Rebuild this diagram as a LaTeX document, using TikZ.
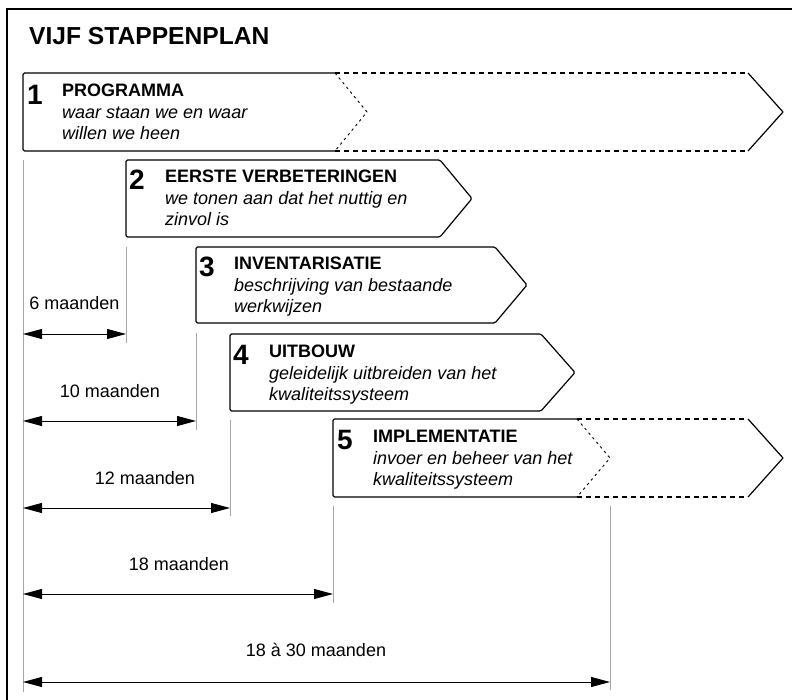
\documentclass[tikz,border=0pt]{standalone}
\usepackage{fontspec}
\setmainfont{Liberation Sans}
\usetikzlibrary{arrows.meta}
\begin{document}
\begin{tikzpicture}[x=1pt,y=-1pt,
  boxline/.style={line width=1.2pt, line join=round},
  dashext/.style={line width=1.2pt, dash pattern=on 4.5pt off 4.5pt},
  chevdash/.style={line width=0.9pt, dash pattern=on 2.5pt off 3.5pt},
  guide/.style={line width=0.8pt, draw=black!35},
  dim/.style={line width=0.9pt, {Triangle[length=19pt,width=10pt]}-{Triangle[length=19pt,width=10pt]}},
  num/.style={anchor=base west, inner sep=0pt, font=\fontsize{28}{28}\selectfont\bfseries},
  head/.style={anchor=base west, inner sep=0pt, font=\fontsize{18}{21}\selectfont\bfseries},
  desc/.style={anchor=base west, inner sep=0pt, font=\fontsize{18}{21}\selectfont\itshape},
  dimlabel/.style={anchor=base, inner sep=0pt, font=\fontsize{18}{21}\selectfont},
]
\useasboundingbox (0,0) rectangle (792,700);

% outer frame (open to the right and bottom)
\draw[line width=1.3pt] (7,700) -- (7,9) -- (792,9);

% title
\node[anchor=base west, inner sep=0pt, font=\fontsize{24.6}{24.6}\selectfont\bfseries] (title) at (29,45) {VIJF STAPPENPLAN};

% ---- step 1: programme (open-ended arrow) ----
\draw[boxline, rounded corners=1.5pt] (335,73) -- (23,73) -- (23,151) -- (335,151);
\draw[chevdash] (335,73) -- (367,112) -- (335,151);
\draw[dashext] (335,73) -- (748,73);
\draw[dashext] (335,151) -- (748,151);
\draw[boxline] (748,73) -- (783,112) -- (748,151);
\node[num]  (n1) at (27,105) {1};
\node[head] (h1) at (62,97)  {PROGRAMMA};
\node[desc] (d1a) at (62,119) {waar staan we en waar};
\node[desc] (d1b) at (62,140) {willen we heen};

% ---- step 2 ----
\draw[boxline, rounded corners=1.5pt] (126,160) -- (440,160) -- (472,198.5) -- (440,237) -- (126,237) -- cycle;
\node[num]  (n2) at (129,190) {2};
\node[head] (h2) at (165,183) {EERSTE VERBETERINGEN};
\node[desc] (d2a) at (165,205) {we tonen aan dat het nuttig en};
\node[desc] (d2b) at (165,226) {zinvol is};

% ---- step 3 ----
\draw[boxline, rounded corners=1.5pt] (196,247) -- (495,247) -- (527,285) -- (495,323) -- (196,323) -- cycle;
\node[num]  (n3) at (199,277) {3};
\node[head] (h3) at (234,270) {INVENTARISATIE};
\node[desc] (d3a) at (234,292) {beschrijving van bestaande};
\node[desc] (d3b) at (234,313) {werkwijzen};

% ---- step 4 ----
\draw[boxline, rounded corners=1.5pt] (230,334) -- (541,334) -- (575,372.5) -- (541,411) -- (230,411) -- cycle;
\node[num]  (n4) at (233,364) {4};
\node[head] (h4) at (269,357) {UITBOUW};
\node[desc] (d4a) at (269,379) {geleidelijk uitbreiden van het};
\node[desc] (d4b) at (269,400) {kwaliteitssysteem};

% ---- step 5: implementation (open-ended arrow) ----
\draw[boxline, rounded corners=1.5pt] (577,419) -- (333,419) -- (333,497) -- (577,497);
\draw[chevdash] (577,419) -- (610,458) -- (577,497);
\draw[dashext] (577,419) -- (748,419);
\draw[dashext] (577,497) -- (748,497);
\draw[boxline] (748,419) -- (783,458) -- (748,497);
\node[num]  (n5) at (337,449) {5};
\node[head] (h5) at (373,442) {IMPLEMENTATIE};
\node[desc] (d5a) at (373,464) {invoer en beheer van het};
\node[desc] (d5b) at (373,485) {kwaliteitssysteem};

% ---- time scale: guide lines ----
\coordinate (g0t) at (23,160);  \coordinate (g0b) at (23,692);
\coordinate (g1t) at (126,247); \coordinate (g1b) at (126,343);
\coordinate (g2t) at (196,333); \coordinate (g2b) at (196,430);
\coordinate (g3t) at (230,420); \coordinate (g3b) at (230,516);
\coordinate (g4t) at (333,506); \coordinate (g4b) at (333,603);
\coordinate (g5t) at (610,506); \coordinate (g5b) at (610,690);
\foreach \g in {g0,g1,g2,g3,g4,g5} \draw[guide] (\g t) -- (\g b);

% ---- time scale: dimension arrows ----
\coordinate (a1l) at (23,334); \coordinate (a1r) at (126,334);
\coordinate (a2l) at (23,421); \coordinate (a2r) at (196,421);
\coordinate (a3l) at (23,508); \coordinate (a3r) at (230,508);
\coordinate (a4l) at (23,594); \coordinate (a4r) at (333,594);
\coordinate (a5l) at (23,682); \coordinate (a5r) at (610,682);
\foreach \a in {a1,a2,a3,a4,a5} \draw[dim] (\a l) -- (\a r);

\node[dimlabel] (l1) at (74.5,310) {6 maanden};
\node[dimlabel] (l2) at (110,397)  {10 maanden};
\node[dimlabel] (l3) at (145,484)  {12 maanden};
\node[dimlabel] (l4) at (179,570)  {18 maanden};
\node[dimlabel] (l5) at (316,656)  {18 à 30 maanden};
\end{tikzpicture}
\end{document}
